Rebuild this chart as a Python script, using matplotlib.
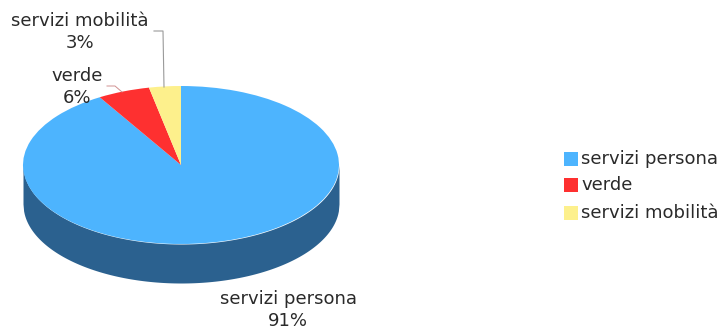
import numpy as np
import matplotlib
matplotlib.use("Agg")
import matplotlib.pyplot as plt
from matplotlib.patches import Rectangle

categories = ["servizi persona", "verde", "servizi mobilità"]
values = [91.4, 5.35, 3.25]
pct_labels = ["91%", "6%", "3%"]
colors = ["#4db4fe", "#fe3030", "#fdf08c"]
side_color = "#2b618f"
FS = 13.0
TC = "#2a2a2a"

W, H = 723, 329
fig = plt.figure(figsize=(W / 100, H / 100), dpi=100)
ax = fig.add_axes([0, 0, 1, 1])

# y data units are half-pixels so that a round pie renders as a 2:1 ellipse
def Y(py):
    return (H - py) * 2

cx, cy, r, depth = 181, 165, 158, 39
wedges, _ = ax.pie(values, colors=colors, startangle=90, counterclock=False,
                   center=(cx, Y(cy)), radius=r, frame=False,
                   wedgeprops={"linewidth": 0, "zorder": 3})
# side wall of the cylinder
t = np.linspace(-r, r, 500)
arc = np.sqrt(np.maximum(r**2 - t**2, 0))
ax.fill_between(cx + t, Y(cy) - arc, Y(cy + depth) - arc, color=side_color, lw=0, zorder=1)

ax.set_aspect("auto")
ax.set_xlim(0, W)
ax.set_ylim(0, H * 2)
ax.axis("off")

# slice labels
kw = dict(ha="center", va="center", fontsize=FS, color=TC, linespacing=1.32, zorder=5)
ax.text(288, Y(310), f"{categories[0]}\n{pct_labels[0]}", **kw)
ax.text(77, Y(87), f"{categories[1]}\n{pct_labels[1]}", **kw)
ax.text(80, Y(32), f"{categories[2]}\n{pct_labels[2]}", **kw)

# leader lines
ax.plot([154, 163, 164], [Y(31), Y(31), Y(87)], color="#9a9a9a", lw=0.8, zorder=4)
ax.plot([107, 115, 122], [Y(86), Y(86), Y(92)], color="#d09090", lw=0.7, zorder=4)

# legend
for py, c, lab in zip([159, 185, 213], colors, categories):
    ax.add_patch(Rectangle((564, Y(py + 7)), 14, 28, color=c, lw=0, zorder=3))
    ax.text(581, Y(py), lab, ha="left", va="center", fontsize=FS, color=TC)

fig.savefig("out.png", dpi=100)
